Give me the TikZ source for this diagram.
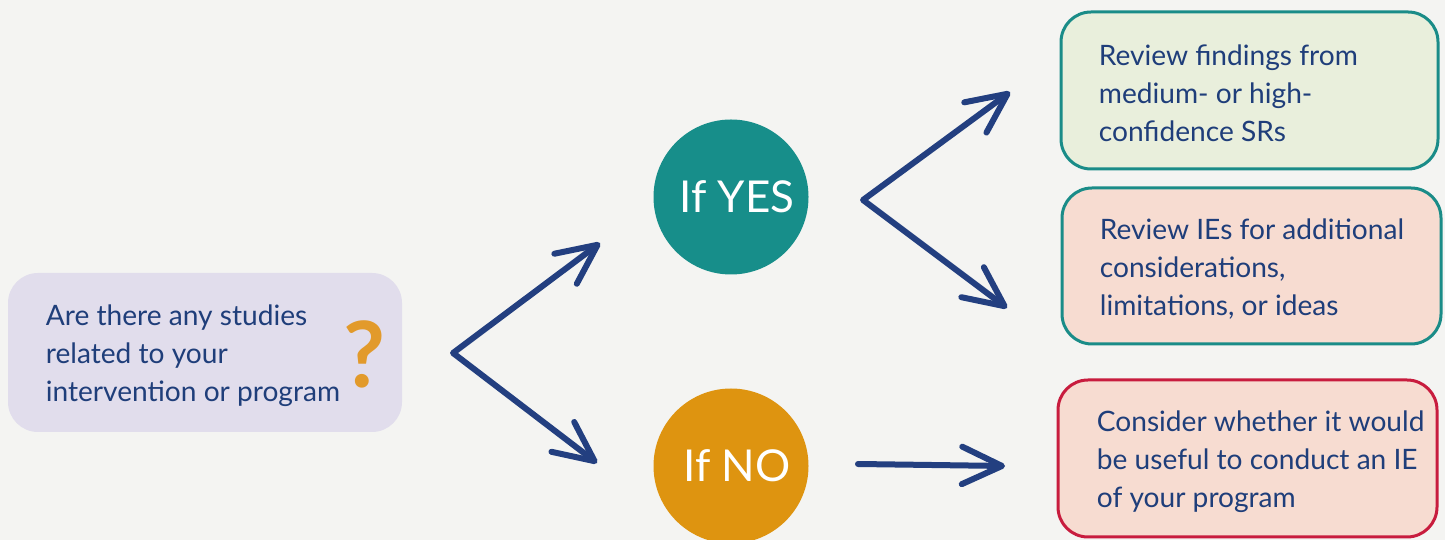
\documentclass[tikz,border=0pt]{standalone}
\usepackage{fontspec}
\setmainfont{Lato}
\usetikzlibrary{positioning,arrows.meta}

\definecolor{paper}{HTML}{F4F4F2}
\definecolor{inkblue}{HTML}{1F3E7A}
\definecolor{penblue}{HTML}{233F80}
\definecolor{lavender}{HTML}{E1DDEC}
\definecolor{sage}{HTML}{E9EFDC}
\definecolor{blush}{HTML}{F7DCD1}
\definecolor{tealline}{HTML}{1A8C88}
\definecolor{redline}{HTML}{C81C3E}
\definecolor{tealdisc}{HTML}{178E8A}
\definecolor{amberdisc}{HTML}{DE9410}
\definecolor{amber}{HTML}{E29A2B}

\tikzset{
  panel/.style={rounded corners=0.6cm, line width=0.06cm, inner sep=0pt},
  paneltext/.style={text=inkblue, align=left, inner sep=0pt, yshift=-0.06cm,
    font=\fontsize{16}{21.6}\selectfont},
  disc/.style={circle, minimum size=3.1cm, inner sep=0pt, text=white,
    font=\fontsize{25}{30}\selectfont},
  pen/.style={draw=penblue, line width=0.12cm, line cap=round, line join=round},
  barb/.style={-{Straight Barb[length=0.8cm, width=0.75cm, round]}},
  barbs/.style={{Straight Barb[length=0.8cm, width=0.75cm, round]}-{Straight Barb[length=0.8cm, width=0.75cm, round]}}
}

\begin{document}
\begin{tikzpicture}
% paper background
\fill [paper] (0,0) rectangle (28.9,10.8);
\useasboundingbox (0,0) rectangle (28.9,10.8);

% question box
\node [panel, fill=lavender, minimum width=7.88cm, minimum height=3.18cm] (qbox) at (4.10,3.75) {};
\node [paneltext, right=0.78cm of qbox.west] (qtext) {Are there any studies\\related to your\\intervention or program};
\node [text=amber, inner sep=0pt, font=\fontsize{52}{52}\selectfont\bfseries] (qmark) at (7.30,3.72) {?};

% answer discs
\node [disc, fill=tealdisc] (yes) at (14.62,6.86) {\hspace*{0.24cm}If YES};
\node [disc, fill=amberdisc] (no) at (14.62,1.48) {\hspace*{0.24cm}If NO};

% outcome boxes
\node [panel, draw=tealline, fill=sage, minimum width=7.54cm, minimum height=3.14cm] (srbox) at (24.99,8.99) {};
\node [paneltext, right=0.78cm of srbox.west] (srtext) {Review findings from\\medium- or high-\\confidence SRs};

\node [panel, draw=tealline, fill=blush, minimum width=7.58cm, minimum height=3.12cm] (iebox) at (25.03,5.48) {};
\node [paneltext, right=0.78cm of iebox.west] (ietext) {Review IEs for additional\\considerations,\\limitations, or ideas};

\node [panel, draw=redline, fill=blush, minimum width=7.58cm, minimum height=3.14cm] (newbox) at (24.95,1.63) {};
\node [paneltext, right=0.80cm of newbox.west] (newtext) {Consider whether it would\\be useful to conduct an IE\\of your program};

% hand drawn arrows
\coordinate (qfork) at (9.06,3.74);
\coordinate (qup) at (12.00,5.94);
\coordinate (qdown) at (11.94,1.54);
\coordinate (yfork) at (17.26,6.80);
\coordinate (yup) at (20.20,8.96);
\coordinate (ydown) at (20.14,4.64);
\coordinate (nstart) at (17.16,1.52);
\coordinate (nend) at (20.10,1.48);

\draw [pen, barbs] (qup) -- (qfork) -- (qdown);
\draw [pen, barbs] (yup) -- (yfork) -- (ydown);
\draw [pen, barb] (nstart) -- (nend);
\end{tikzpicture}
\end{document}
